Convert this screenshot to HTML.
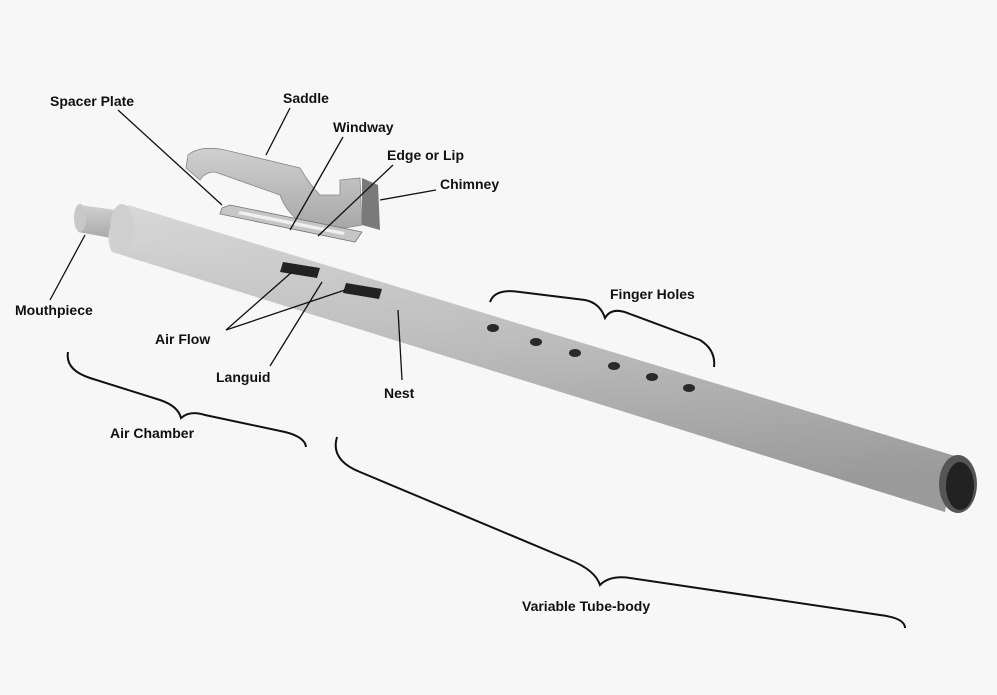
<!DOCTYPE html>
<html><head><meta charset="utf-8"><style>
html,body{margin:0;padding:0;background:#f7f7f7;}
svg{display:block;}
text{font-family:"Liberation Sans",sans-serif;font-weight:bold;font-size:14px;fill:#111;}
</style></head><body>
<svg width="997" height="695" viewBox="0 0 997 695" xmlns="http://www.w3.org/2000/svg">
<defs>
<linearGradient id="tube" x1="0" y1="0" x2="0.15" y2="1">
<stop offset="0" stop-color="#d8d8d8"/><stop offset="0.5" stop-color="#bdbdbd"/><stop offset="1" stop-color="#9a9a9a"/>
</linearGradient>
<linearGradient id="part" x1="0" y1="0" x2="0" y2="1">
<stop offset="0" stop-color="#d0d0d0"/><stop offset="1" stop-color="#a8a8a8"/>
</linearGradient>
</defs>
<rect width="997" height="695" fill="#f7f7f7"/>
<path d="M80 205 L130 212 L122 240 L78 232 Z" fill="url(#part)"/>
<ellipse cx="80" cy="218" rx="6" ry="14" fill="#c8c8c8"/>
<path d="M128 205 L955 456 L945 512 L112 252 Q100 228 128 205 Z" fill="url(#tube)"/>
<ellipse cx="122" cy="228" rx="12" ry="24" fill="#cfcfcf"/>
<ellipse cx="958" cy="484" rx="19" ry="29" fill="#555"/>
<ellipse cx="960" cy="486" rx="14" ry="24" fill="#222"/>
<path d="M283 262 L320 268 L317 278 L280 272 Z" fill="#222"/>
<path d="M346 283 L382 289 L379 299 L343 293 Z" fill="#222"/>
<g fill="#2a2a2a">
<ellipse cx="493" cy="328" rx="6" ry="4"/><ellipse cx="536" cy="342" rx="6" ry="4"/>
<ellipse cx="575" cy="353" rx="6" ry="4"/><ellipse cx="614" cy="366" rx="6" ry="4"/>
<ellipse cx="652" cy="377" rx="6" ry="4"/><ellipse cx="689" cy="388" rx="6" ry="4"/>
</g>
<path d="M188 155 Q200 145 225 150 L300 168 Q310 185 320 195 L340 195 L340 180 L360 178 L362 225 L345 228 L300 222 Q285 210 280 195 L215 172 Q205 172 200 180 L186 168 Z" fill="url(#part)" stroke="#888" stroke-width="0.8"/>
<path d="M362 178 L378 185 L380 230 L362 225 Z" fill="#7a7a7a"/>
<path d="M222 208 L230 205 L362 232 L355 242 L220 214 Z" fill="#c6c6c6" stroke="#777" stroke-width="0.8"/>
<path d="M240 211 L345 232 L343 235 L238 214 Z" fill="#f0f0f0"/>
<g stroke="#111" stroke-width="1.3" fill="none">
<line x1="118" y1="110" x2="222" y2="205"/>
<line x1="290" y1="108" x2="266" y2="155"/>
<line x1="343" y1="137" x2="290" y2="230"/>
<line x1="393" y1="165" x2="318" y2="236"/>
<line x1="436" y1="190" x2="380" y2="200"/>
<line x1="50" y1="300" x2="85" y2="235"/>
<line x1="226" y1="330" x2="292" y2="272"/>
<line x1="226" y1="330" x2="345" y2="290"/>
<line x1="270" y1="366" x2="322" y2="282"/>
<line x1="402" y1="380" x2="398" y2="310"/>
</g>
<g stroke="#111" stroke-width="2" fill="none">
<path d="M490 302 Q495 288 520 292 L585 300 Q600 303 605 318 Q612 306 630 314 L700 340 Q716 350 714 367"/>
<path d="M68 352 Q65 370 90 378 L160 400 Q178 406 181 418 Q190 410 205 415 L285 432 Q305 437 306 447"/>
<path d="M337 437 Q330 460 360 472 L570 560 Q595 570 600 585 Q610 575 630 578 L880 615 Q905 618 905 628"/>
</g>
<text x="50" y="106">Spacer Plate</text>
<text x="283" y="103">Saddle</text>
<text x="333" y="132">Windway</text>
<text x="387" y="160">Edge or Lip</text>
<text x="440" y="189">Chimney</text>
<text x="15" y="315">Mouthpiece</text>
<text x="155" y="344">Air Flow</text>
<text x="216" y="382">Languid</text>
<text x="384" y="398">Nest</text>
<text x="610" y="299">Finger Holes</text>
<text x="110" y="438">Air Chamber</text>
<text x="522" y="611">Variable Tube-body</text>
</svg>
</body></html>
